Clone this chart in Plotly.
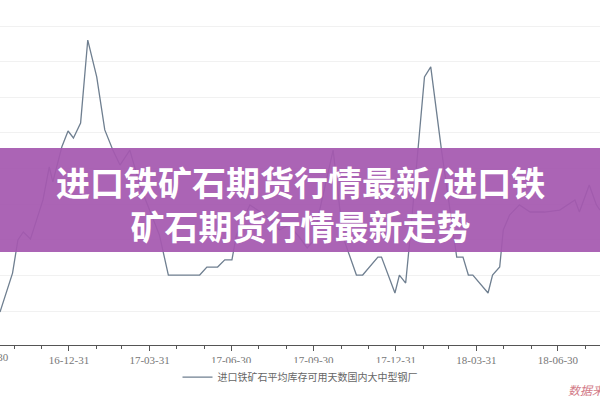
import plotly.graph_objects as go

dates = ["2016-10-15","2016-10-29","2016-11-04","2016-11-10","2016-11-18","2016-12-02","2016-12-09",
         "2016-12-13","2016-12-23","2016-12-30","2017-01-05","2017-01-13","2017-01-21","2017-01-31",
         "2017-02-09","2017-02-18","2017-02-26","2017-03-09","2017-03-20","2017-03-31","2017-04-11",
         "2017-04-21","2017-05-26","2017-06-03","2017-06-15","2017-06-23","2017-07-01","2017-07-06",
         "2017-07-21","2017-08-07","2017-08-23","2017-09-03","2017-09-15","2017-09-23","2017-09-29",
         "2017-10-22","2017-11-02","2017-11-17","2017-11-24","2017-12-11","2017-12-15","2017-12-30",
         "2018-01-04","2018-01-11","2018-01-16","2018-02-01","2018-02-08","2018-02-20","2018-03-05",
         "2018-03-09","2018-03-16","2018-03-22","2018-03-27","2018-04-13","2018-04-18","2018-04-26",
         "2018-04-30","2018-05-07","2018-05-18","2018-05-30","2018-06-15","2018-07-02","2018-07-19",
         "2018-07-24","2018-08-04","2018-08-12","2018-08-16"]
days = [19.94,22.13,23.99,24.44,24.04,26.24,28.09,
        27.25,29.21,30.11,29.72,30.56,35.22,33.15,
        30.17,29.04,28.20,29.04,27.08,25.67,24.27,
        22.02,22.02,22.47,22.47,22.87,22.87,24.27,
        25.96,25.39,24.55,24.83,24.10,23.54,23.88,
        29.04,24.16,22.02,22.02,23.03,23.03,21.01,
        22.02,21.57,24.16,33.15,33.71,29.04,24.38,
        23.03,23.03,22.02,22.02,21.01,22.02,22.47,
        24.55,25.39,25.96,25.56,25.56,25.67,26.24,
        25.56,27.08,25.96,25.67]

tick_vals = ["2016-12-31","2017-03-31","2017-06-30","2017-09-30","2017-12-31","2018-03-31","2018-06-30"]
tick_text = ["16-12-31","17-03-31","17-06-30","17-09-30","17-12-31","18-03-31","18-06-30"]
minor_vals = ["2016-10-31","2016-11-30","2017-01-31","2017-02-28","2017-04-30","2017-05-31",
              "2017-07-31","2017-08-31","2017-10-31","2017-11-30","2018-01-31","2018-02-28",
              "2018-04-30","2018-05-31","2018-07-31"]
series_name = "进口铁矿石平均库存可用天数国内大中型钢厂"
title_text = "进口铁矿石期货行情最新/进口铁<br>矿石期货行情最新走势"

fig = go.Figure()
fig.add_trace(go.Scatter(x=dates, y=days, mode="lines", name=series_name,
                         line=dict(color="#6f7f90", width=1.3)))

fig.update_layout(
    width=600, height=400,
    margin=dict(l=0, r=0, t=0, b=55),
    paper_bgcolor="white", plot_bgcolor="white",
    showlegend=True,
    legend=dict(orientation="h", x=0.5, xanchor="center", y=-0.093, yanchor="middle",
                font=dict(size=10, color="#666", family="Noto Sans CJK SC"),
                itemwidth=30),
    xaxis=dict(type="date", range=["2016-10-15", "2018-08-16"],
               tickmode="array", tickvals=tick_vals, ticktext=tick_text,
               ticks="outside", ticklen=5, tickcolor="#555", tickwidth=1,
               showline=True, linecolor="#555", linewidth=1,
               showgrid=False, zeroline=False,
               tickfont=dict(size=11, color="#777", family="Liberation Serif"),
               minor=dict(tickmode="array", tickvals=minor_vals, ticks="outside",
                          ticklen=3, tickcolor="#555", showgrid=False)),
    yaxis=dict(range=[18.09, 37.47], tick0=20, dtick=2, showgrid=True, gridcolor="#f1f1f1",
               showticklabels=False, zeroline=False, showline=False, ticks=""),
)

fig.add_annotation(xref="paper", yref="paper", x=-12/600, y=-0.035, text="16-09-30",
                   showarrow=False, xanchor="center", yanchor="middle",
                   font=dict(size=11, color="#777", family="Liberation Serif"))
fig.add_annotation(xref="paper", yref="paper", x=566/600, y=-0.13, text="数据来源",
                   showarrow=False, xanchor="left", yanchor="middle",
                   font=dict(size=12, color="#d27a88", family="Noto Sans CJK SC", style="italic"))

fig.add_shape(type="rect", xref="paper", yref="paper", x0=0, x1=1,
              y0=(345-252)/345, y1=(345-148)/345, fillcolor="rgba(165,88,175,0.93)",
              line=dict(width=0), layer="above")
fig.add_annotation(xref="paper", yref="paper", x=0.5, y=(345-203)/345, text=title_text,
                   showarrow=False, xanchor="center", yanchor="middle",
                   font=dict(size=34, color="white", family="Noto Sans CJK SC", weight="bold"))

fig.write_html("out.html", config={"displayModeBar": False},
               post_script="document.body.style.margin='0';")
